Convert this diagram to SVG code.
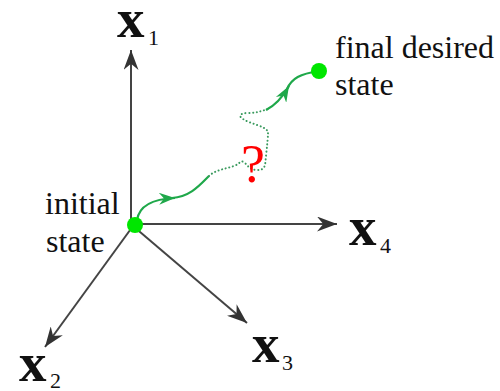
<svg xmlns="http://www.w3.org/2000/svg" width="500" height="391" viewBox="0 0 500 391">
<style>
.axis{stroke:#444;stroke-width:2;fill:none}
.lbl{font-family:'Liberation Serif','Times New Roman',serif;font-size:32px;fill:#111}
.ax{font-family:'Liberation Serif','Times New Roman',serif;font-size:55px;font-weight:bold;fill:#111}
.sub{font-family:'Liberation Serif','Times New Roman',serif;font-size:22px;fill:#111}
.q{font-family:'Liberation Serif','Times New Roman',serif;font-size:54px;fill:#ff0000}
.path{stroke:#1fa84a;stroke-width:2.2;fill:none}
.dots{stroke:#3a9a5e;stroke-width:2;fill:none;stroke-dasharray:0.1 3.6;stroke-linecap:round}
.dot{fill:#00e600}
</style>
<defs>
<marker id="ah" viewBox="0 0 16 12" refX="16" refY="6" markerWidth="20" markerHeight="15" markerUnits="userSpaceOnUse" orient="auto">
<path d="M0,0 L16,6 L0,12 L5,6 Z" fill="#333"/>
</marker>
<marker id="gh" viewBox="0 0 16 12" refX="16" refY="6" markerWidth="18" markerHeight="12" markerUnits="userSpaceOnUse" orient="auto">
<path d="M0,0 L16,6 L0,12 L5,6 Z" fill="#1fa84a"/>
</marker>
</defs>
<g id="connectors">
<line class="axis" x1="131" y1="226" x2="131" y2="50" marker-end="url(#ah)"/>
<line class="axis" x1="131" y1="224" x2="337" y2="224" marker-end="url(#ah)"/>
<line class="axis" x1="133" y1="226" x2="45" y2="347" marker-end="url(#ah)"/>
<line class="axis" x1="133" y1="226" x2="247" y2="323" marker-end="url(#ah)"/>
<path class="path" d="M137,220 C139,207 150,199 175,198" marker-end="url(#gh)"/>
<path class="path" d="M172,198 C190,197 200,185 209,176"/>
<path class="dots" d="M209,176 C215,170 225,169 234,166 C240,164 240,160 244,162 C248,166 250,170 258,170 C266,170 265,164 266,156 C267,146 268,138 268,132 C266,126 250,124 243,119 C238,116 240,113 248,113 C256,113 262,111 268,109"/>
<path class="path" d="M266,110 C274,106 281,100 289,86" marker-end="url(#gh)"/>
<path class="path" d="M287,89 C292,78 300,74 319,71"/>
</g>
<g id="initial">
<circle class="dot" cx="135" cy="225" r="8"/>
<text class="lbl" x="45" y="214">initial</text>
<text class="lbl" x="46" y="252">state</text>
</g>
<g id="final">
<circle class="dot" cx="319" cy="71" r="8"/>
<text class="lbl" x="335" y="58">final desired</text>
<text class="lbl" x="335" y="95">state</text>
</g>
<g id="question">
<text class="q" x="253" y="182" text-anchor="middle">?</text>
</g>
<g id="x1"><text class="ax" x="117" y="37">x</text><text class="sub" x="148" y="45">1</text></g>
<g id="x4"><text class="ax" x="349" y="245">x</text><text class="sub" x="380" y="253">4</text></g>
<g id="x2"><text class="ax" x="19" y="381">x</text><text class="sub" x="50" y="388">2</text></g>
<g id="x3"><text class="ax" x="252" y="362">x</text><text class="sub" x="282" y="370">3</text></g>
</svg>
